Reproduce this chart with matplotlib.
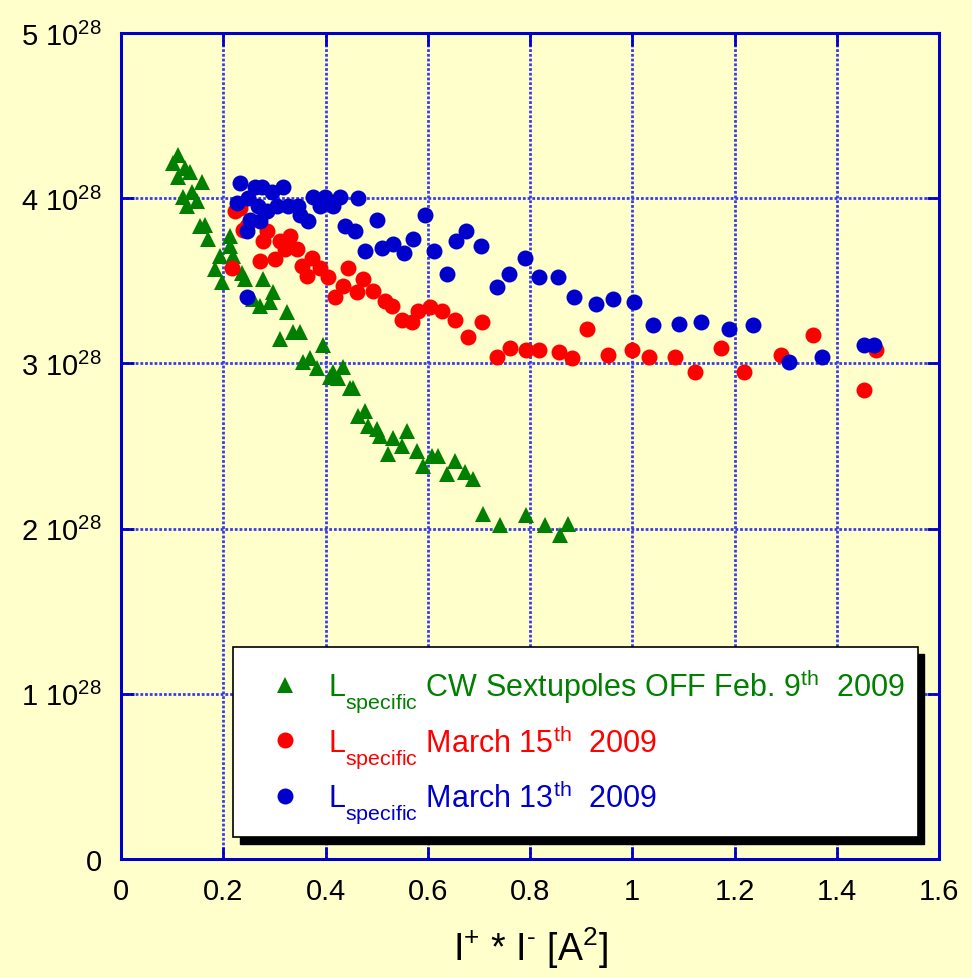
import matplotlib
matplotlib.use("Agg")
import matplotlib.pyplot as plt
import matplotlib._mathtext as mathtext_internals
import numpy as np
from matplotlib.patches import Rectangle
from matplotlib.ticker import FuncFormatter, MultipleLocator

plt.rcParams['font.family'] = ['Liberation Sans', 'DejaVu Sans']
plt.rcParams['mathtext.fontset'] = 'custom'
plt.rcParams['mathtext.rm'] = 'Liberation Sans'
plt.rcParams['mathtext.it'] = 'Liberation Sans:italic'
plt.rcParams['mathtext.bf'] = 'Liberation Sans:bold'
plt.rcParams['mathtext.default'] = 'regular'
# push subscripts further below the baseline
mathtext_internals.FontConstantsBase.sub1 = 0.75

# specific luminosity vs I+ * I-   (luminosity in units of 1e28)
# Feb. 9th 2009, CW sextupoles off
feb9_ii = [0.112, 0.102, 0.125, 0.135, 0.112, 0.159, 0.139, 0.121, 0.149, 0.129,
           0.155, 0.164, 0.170, 0.213, 0.194, 0.184, 0.198, 0.219, 0.213, 0.237,
           0.243, 0.278, 0.258, 0.272, 0.297, 0.292, 0.325, 0.311, 0.337, 0.350,
           0.395, 0.356, 0.370, 0.384, 0.409, 0.415, 0.434, 0.425, 0.448, 0.454,
           0.464, 0.477, 0.483, 0.501, 0.507, 0.532, 0.560, 0.523, 0.550, 0.579,
           0.591, 0.609, 0.620, 0.638, 0.654, 0.673, 0.689, 0.708, 0.742, 0.793,
           0.830, 0.859, 0.875]
feb9_lsp = [4.26, 4.21, 4.18, 4.16, 4.13, 4.10, 4.04, 4.01, 3.98, 3.95,
            3.83, 3.84, 3.75, 3.77, 3.65, 3.57, 3.49, 3.65, 3.71, 3.55,
            3.51, 3.51, 3.39, 3.35, 3.43, 3.37, 3.31, 3.15, 3.19, 3.19,
            3.11, 3.01, 3.03, 2.97, 2.92, 2.95, 2.98, 2.91, 2.85, 2.85,
            2.68, 2.71, 2.62, 2.60, 2.56, 2.55, 2.59, 2.45, 2.50, 2.47,
            2.38, 2.44, 2.44, 2.33, 2.41, 2.34, 2.30, 2.09, 2.02, 2.08,
            2.02, 1.96, 2.03]

# March 15th 2009
mar15_ii = [0.233, 0.223, 0.247, 0.239, 0.286, 0.278, 0.311, 0.331, 0.344, 0.321,
            0.272, 0.301, 0.217, 0.354, 0.374, 0.364, 0.389, 0.405, 0.444, 0.434,
            0.474, 0.462, 0.493, 0.419, 0.517, 0.530, 0.550, 0.569, 0.581, 0.605,
            0.628, 0.654, 0.679, 0.706, 0.736, 0.761, 0.793, 0.818, 0.857, 0.883,
            0.912, 0.953, 1.000, 1.033, 1.084, 1.123, 1.174, 1.219, 1.290, 1.354,
            1.477, 1.454]
mar15_lsp = [3.94, 3.92, 3.83, 3.81, 3.80, 3.74, 3.74, 3.77, 3.69, 3.69,
             3.62, 3.63, 3.58, 3.59, 3.64, 3.53, 3.58, 3.52, 3.58, 3.47,
             3.51, 3.43, 3.44, 3.40, 3.38, 3.35, 3.26, 3.25, 3.32, 3.34,
             3.32, 3.26, 3.16, 3.25, 3.04, 3.09, 3.08, 3.08, 3.07, 3.03,
             3.21, 3.05, 3.08, 3.04, 3.04, 2.95, 3.09, 2.95, 3.05, 3.17,
             3.08, 2.84]

# March 13th 2009
mar13_ii = [0.233, 0.262, 0.276, 0.295, 0.317, 0.227, 0.249, 0.268, 0.286, 0.305,
            0.327, 0.346, 0.350, 0.366, 0.252, 0.272, 0.247, 0.376, 0.399, 0.389,
            0.415, 0.429, 0.464, 0.438, 0.458, 0.501, 0.477, 0.511, 0.532, 0.554,
            0.571, 0.595, 0.613, 0.638, 0.656, 0.675, 0.705, 0.736, 0.759, 0.791,
            0.818, 0.855, 0.886, 0.930, 0.963, 1.004, 1.041, 1.092, 1.135, 1.190,
            1.237, 1.307, 1.372, 1.454, 1.472, 0.247]
mar13_lsp = [4.09, 4.07, 4.07, 4.04, 4.07, 3.97, 4.00, 3.95, 3.92, 3.95,
             3.95, 3.95, 3.90, 3.86, 3.87, 3.86, 3.80, 4.01, 4.01, 3.95,
             3.95, 4.01, 4.00, 3.83, 3.80, 3.87, 3.68, 3.70, 3.72, 3.67,
             3.75, 3.90, 3.68, 3.54, 3.74, 3.80, 3.71, 3.46, 3.54, 3.64,
             3.52, 3.52, 3.40, 3.36, 3.39, 3.37, 3.23, 3.24, 3.25, 3.21,
             3.23, 3.01, 3.04, 3.11, 3.11, 3.40]

labels = [r"L$_{specific}$ CW Sextupoles OFF Feb. 9$^{th}$  2009",
          r"L$_{specific}$ March 15$^{th}$  2009",
          r"L$_{specific}$ March 13$^{th}$  2009"]

GREEN = '#007f00'
RED = '#ff0000'
BLUE = '#0000cc'
BG = '#ffffcc'
FRAME = '#0000cc'

fig = plt.figure(figsize=(9.72, 9.79), dpi=100, facecolor=BG)
ax = fig.add_axes([0.1245, 0.1216, 0.8416, 0.8437])
ax.set_facecolor(BG)

scale = 1e28
h1, = ax.plot(feb9_ii, np.array(feb9_lsp) * scale, ls='none', marker='^',
              ms=12, color=GREEN, mew=0, zorder=3)
h2, = ax.plot(mar15_ii, np.array(mar15_lsp) * scale, ls='none', marker='o',
              ms=11.5, color=RED, mew=0, zorder=3)
h3, = ax.plot(mar13_ii, np.array(mar13_lsp) * scale, ls='none', marker='o',
              ms=11.5, color=BLUE, mew=0, zorder=3)

ax.set_xlim(0, 1.6)
ax.set_ylim(0, 5e28)
ax.xaxis.set_major_locator(MultipleLocator(0.2))
ax.yaxis.set_major_locator(MultipleLocator(1e28))
ax.xaxis.set_major_formatter(FuncFormatter(lambda v, p: '%g' % round(v, 2)))
ax.yaxis.set_major_formatter(FuncFormatter(
    lambda v, p: '0' if v == 0 else '%d 10$^{28}$' % round(v / 1e28)))

ax.grid(True, color='#3a3aee', ls=(0, (1, 0.7)), lw=2.0, zorder=1)
ax.set_axisbelow(True)
for s in ax.spines.values():
    s.set_color(FRAME)
    s.set_linewidth(2.2)
ax.tick_params(direction='in', length=9, width=2, color=FRAME,
               top=True, right=True, labelsize=21)
ax.tick_params(axis='x', pad=13)
ax.tick_params(axis='y', pad=14)

ax.set_xlabel(r"I$^{+}$ * I$^{\text{-}}$ [A$^{2}$]", fontsize=27, labelpad=14)

# legend box with a solid drop shadow
bx, by, bw, bh = 0.137, 0.027, 0.837, 0.230
ax.add_patch(Rectangle((bx + 0.008, by - 0.009), bw, bh, transform=ax.transAxes,
                       facecolor='black', edgecolor='black', zorder=5))
ax.add_patch(Rectangle((bx, by), bw, bh, transform=ax.transAxes,
                       facecolor='white', edgecolor='black', lw=1.2, zorder=6))
leg = ax.legend([h1, h2, h3], labels, loc='upper left',
                bbox_to_anchor=(bx + 0.045, by + bh - 0.024),
                frameon=False, fontsize=22, labelcolor=[GREEN, RED, BLUE],
                numpoints=1, handlelength=1.0, handletextpad=0.9,
                labelspacing=0.25, borderpad=0, borderaxespad=0)
leg.set_zorder(7)

fig.savefig('out.png', dpi=100, facecolor=BG)
